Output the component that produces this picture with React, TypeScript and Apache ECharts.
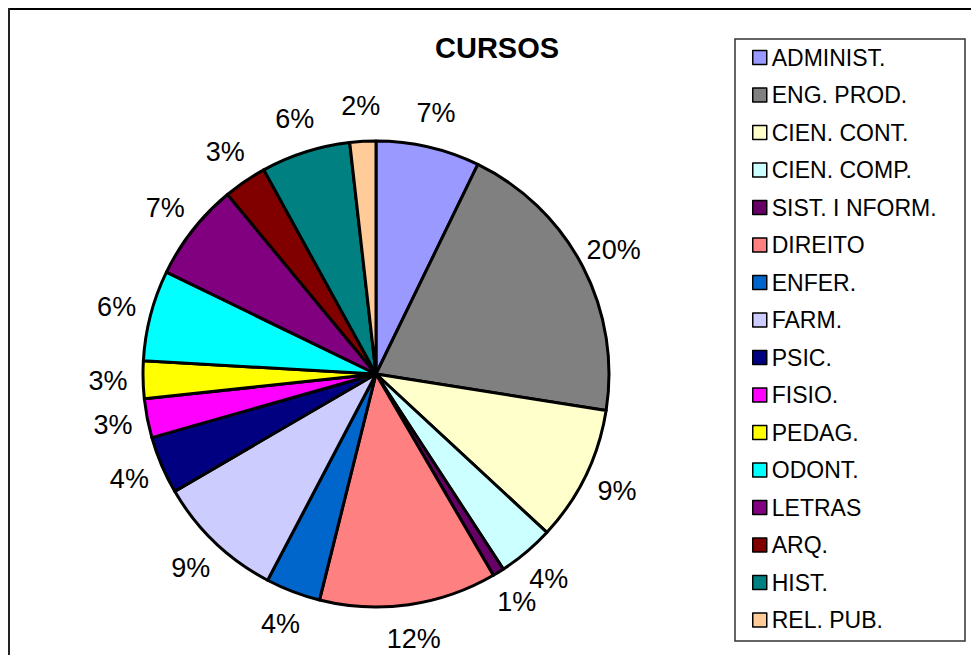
import React, { useEffect, useRef } from "react";
import * as echarts from "echarts";

const categories = [
  "ADMINIST.", "ENG. PROD.", "CIEN. CONT.", "CIEN. COMP.", "SIST. I NFORM.",
  "DIREITO", "ENFER.", "FARM.", "PSIC.", "FISIO.", "PEDAG.", "ODONT.",
  "LETRAS", "ARQ.", "HIST.", "REL. PUB.",
];
const shares = [7.2, 20.3, 9.4, 3.9, 0.8, 12.3, 3.8, 8.9, 4.0, 2.7, 2.6, 6.3, 6.8, 3.0, 6.2, 1.8];
const colors = [
  "#9999FF", "#808080", "#FFFFCC", "#CCFFFF", "#660066", "#FF8080", "#0066CC",
  "#CCCCFF", "#000080", "#FF00FF", "#FFFF00", "#00FFFF", "#800080", "#800000",
  "#008080", "#FFCC99",
];
const titleText = "CURSOS";

const FONT = "'Liberation Sans', Arial, sans-serif";

export default function App() {
  const ref = useRef<HTMLDivElement>(null);
  useEffect(() => {
    if (!ref.current) return;
    const chart = echarts.init(ref.current, null, { renderer: "svg" });
    const data = categories.map((name, i) => ({
      name,
      value: shares[i],
      itemStyle: { color: colors[i] },
    }));
    const labelData = categories.map((name, i) => ({ name, value: shares[i] }));
    chart.setOption({
      animation: false,
      backgroundColor: "#ffffff",
      title: {
        text: titleText,
        left: 430,
        top: 28,
        textStyle: { fontSize: 29, fontWeight: "bold", color: "#000", fontFamily: FONT },
      },
      legend: {
        orient: "vertical",
        left: 752,
        top: 46,
        padding: 0,
        itemWidth: 14,
        itemHeight: 14,
        itemGap: 14.5,
        icon: "rect",
        data: categories,
        itemStyle: { borderColor: "#000", borderWidth: 1.5 },
        textStyle: { fontSize: 23, lineHeight: 22, color: "#000", fontFamily: FONT },
        selectedMode: false,
      },
      graphic: [
        {
          type: "rect",
          shape: { x: 735, y: 39, width: 230, height: 602 },
          style: { fill: "none", stroke: "#333", lineWidth: 1.5 },
          silent: true,
        },
        {
          type: "line",
          shape: { x1: 8, y1: 9, x2: 971, y2: 9 },
          style: { stroke: "#000", lineWidth: 2 },
          silent: true,
        },
        {
          type: "line",
          shape: { x1: 9, y1: 8, x2: 9, y2: 655 },
          style: { stroke: "#222", lineWidth: 2 },
          silent: true,
        },
      ],
      series: [
        {
          type: "pie",
          center: [376, 374],
          radius: [0, 233],
          startAngle: 90,
          clockwise: true,
          silent: true,
          label: { show: false },
          labelLine: { show: false },
          itemStyle: { borderColor: "#000", borderWidth: 3 },
          data,
        },
        {
          type: "pie",
          center: [376, 374],
          radius: [240, 290],
          startAngle: 90,
          clockwise: true,
          silent: true,
          avoidLabelOverlap: false,
          minShowLabelAngle: 0,
          labelLayout: { hideOverlap: false },
          itemStyle: { color: "rgba(0,0,0,0)", borderWidth: 0 },
          label: {
            show: true,
            position: "inside",
            fontSize: 27,
            color: "#000",
            fontFamily: FONT,
            formatter: (p: any) => Math.round(p.percent) + "%",
          },
          labelLine: { show: false },
          data: labelData,
        },
      ],
    });
    return () => chart.dispose();
  }, []);
  return (
    <div
      ref={ref}
      style={{ position: "fixed", left: 0, top: 0, width: 971, height: 655 }}
    />
  );
}
